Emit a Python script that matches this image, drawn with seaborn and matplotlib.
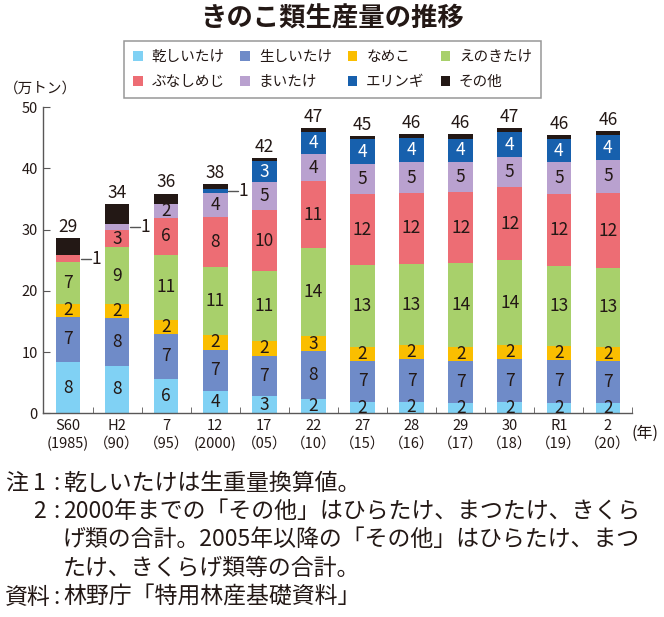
import numpy as np
import pandas as pd
import matplotlib.pyplot as plt
import seaborn as sns
from matplotlib.patches import Patch

# data (万トン)
years = ["S60", "H2", "7", "12", "17", "22", "27", "28", "29", "30", "R1", "2"]
years_ad = ["(1985)", "（90）", "（95）", "(2000)", "（05）", "（10）",
            "（15）", "（16）", "（17）", "（18）", "（19）", "（20）"]
kinds = ["乾しいたけ", "生しいたけ", "なめこ", "えのきたけ", "ぶなしめじ", "まいたけ", "エリンギ", "その他"]

hoshi = [8.4, 7.8, 5.6, 3.7, 2.8, 2.4, 1.8, 1.9, 1.7, 1.8, 1.7, 1.6]
nama = [7.4, 7.8, 7.4, 6.7, 6.6, 7.7, 6.8, 6.9, 6.9, 7.0, 7.0, 7.0]
nameko = [2.0, 2.2, 2.3, 2.4, 2.4, 2.6, 2.3, 2.3, 2.3, 2.3, 2.3, 2.3]
enoki = [6.9, 9.3, 10.6, 11.1, 11.4, 14.3, 13.3, 13.3, 13.6, 14.0, 13.1, 12.8]
bunashimeji = [1.1, 2.9, 6.0, 8.2, 10.0, 10.9, 11.6, 11.6, 11.7, 11.8, 11.8, 12.3]
maitake = [0.0, 0.9, 2.3, 3.9, 4.6, 4.4, 4.9, 5.0, 4.8, 4.9, 5.1, 5.4]
eringi = [0.0, 0.0, 0.0, 0.7, 3.4, 3.7, 4.1, 4.0, 3.9, 4.1, 3.8, 4.0]
sonota = [2.8, 3.3, 1.7, 0.8, 0.5, 0.6, 0.5, 0.6, 0.7, 0.7, 0.7, 0.7]
totals = [29, 34, 36, 38, 42, 47, 45, 46, 46, 47, 46, 46]

colors = ["#80d1f4", "#6f8bc8", "#fabe00", "#a8d06b", "#ed6d74", "#b9a1cf", "#1760ad", "#231815"]
ink = "#231815"

sns.set_style("ticks")
plt.rcParams["font.family"] = ["Noto Sans CJK JP", "DejaVu Sans"]

df = pd.DataFrame(dict(zip(kinds, [hoshi, nama, nameko, enoki, bunashimeji, maitake, eringi, sonota])))
df["year"] = years
cum = df[kinds].cumsum(axis=1)

fig = plt.figure(figsize=(6.64, 6.17), dpi=100)
ax = fig.add_axes([0.0655, 0.3302, 0.887, 0.4959])

# stacked bars: draw the cumulative heights from the top layer down
for k, c in reversed(list(zip(kinds, colors))):
    sns.barplot(x=df["year"], y=cum[k], order=years, color=c, width=0.5,
                saturation=1, errorbar=None, linewidth=0, ax=ax)

# segment labels
for i in range(len(years)):
    for j, k in enumerate(kinds[:-1]):
        v = df[k][i]
        if v <= 0:
            continue
        lab = int(np.floor(v + 0.5))
        mid = cum[k][i] - v / 2
        if lab <= 1:
            ax.plot([i + 0.26, i + 0.46], [mid, mid], color="#555555", lw=1)
            ax.text(i + 0.48, mid, str(lab), ha="left", va="center", fontsize=12.5, color=ink)
        else:
            tc = "white" if k == "エリンギ" else ink
            ax.text(i, mid, str(lab), ha="center", va="center", fontsize=12.5, color=tc)
    ax.text(i, cum["その他"][i] + 0.35, str(totals[i]), ha="center", va="bottom",
            fontsize=12.5, color=ink)

ax.set_xlim(-0.5, 11.5)
ax.set_ylim(0, 50)
ax.set_yticks(range(0, 51, 10))
ax.set_xticks(range(len(years)))
ax.set_xticklabels([f"{a}\n{b}" for a, b in zip(years, years_ad)], linespacing=1.3)
ax.set_xticks(np.arange(0.5, 12, 1), minor=True)
ax.set_xlabel("")
ax.set_ylabel("")
ax.tick_params(axis="x", which="major", length=0, pad=4, labelsize=10.5, colors=ink)
ax.tick_params(axis="x", which="minor", direction="in", length=4.5, color="#595757")
ax.tick_params(axis="y", direction="in", length=5, pad=4, labelsize=10.5, colors=ink)
ax.tick_params(axis="y", color="#595757")
sns.despine(ax=ax)
for s in ["left", "bottom"]:
    ax.spines[s].set_color("#595757")
    ax.spines[s].set_linewidth(1)

fig.text(0.5, 0.969, "きのこ類生産量の推移", ha="center", va="center",
         fontsize=19, fontweight="bold", color=ink)
fig.text(0.006, 0.857, "（万トン）", ha="left", va="center", fontsize=10.5, color=ink)
fig.text(645 / 664, 1 - 433 / 617, "(年)", ha="center", va="center", fontsize=11.5, color=ink)

# legend, filled row by row like the reference
handles = [Patch(facecolor=c, edgecolor="none", label=k) for k, c in zip(kinds, colors)]
order = [0, 4, 1, 5, 2, 6, 3, 7]
leg = fig.legend(handles=[handles[o] for o in order], ncol=4, loc="center",
                 bbox_to_anchor=(0.5008, 0.8874), fontsize=10.5, frameon=True,
                 fancybox=False, edgecolor="#7d7d7d", handlelength=0.65,
                 handleheight=0.65, handletextpad=0.6, columnspacing=1.1,
                 borderpad=0.65, labelspacing=0.75)
leg.get_frame().set_linewidth(1.1)
for t in leg.get_texts():
    t.set_color(ink)

# notes
notes = [
    ("注", "1", "乾しいたけは生重量換算値。"),
    ("", "2", "2000年までの「その他」はひらたけ、まつたけ、きくら"),
    ("", "", "げ類の合計。2005年以降の「その他」はひらたけ、まつ"),
    ("", "", "たけ、きくらげ類等の合計。"),
    ("資料", "", "林野庁「特用林産基礎資料」"),
]
fs = 16.5
for n, (a, b, txt) in enumerate(notes):
    yy = 1 - (483 + n * 28.5) / 617
    if a:
        fig.text(5 / 664, yy, a, ha="left", va="center", fontsize=fs, color=ink)
    if b:
        fig.text(39 / 664, yy, b, ha="center", va="center", fontsize=fs, color=ink)
    if a or b:
        fig.text(56.5 / 664, yy, ":", ha="center", va="center", fontsize=fs, color=ink)
    fig.text(63 / 664, yy, txt, ha="left", va="center", fontsize=fs, color=ink)

fig.savefig("out.png", dpi=100)
